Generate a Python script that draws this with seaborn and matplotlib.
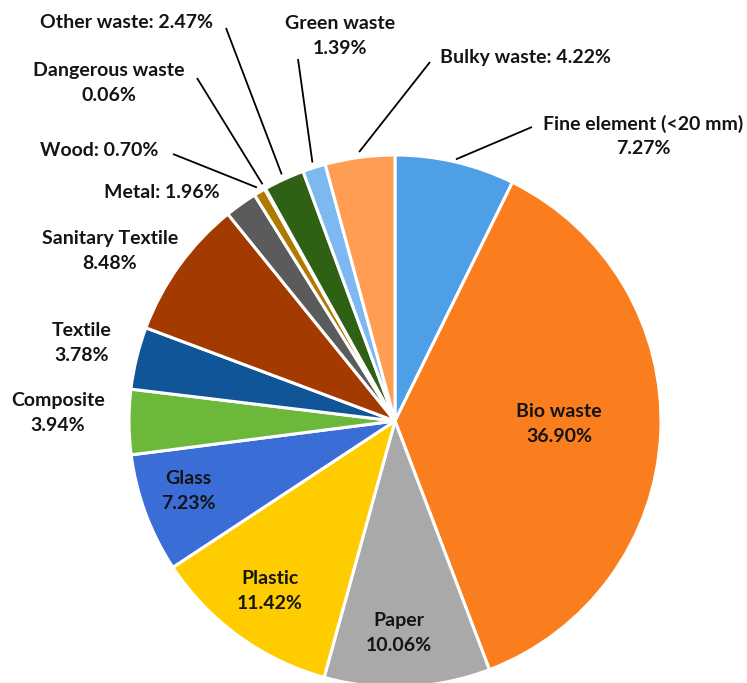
import matplotlib
matplotlib.use("Agg")
import matplotlib.pyplot as plt
import seaborn as sns
import numpy as np

sns.set_theme(style="white")
plt.rcParams['font.family'] = ['Lato', 'DejaVu Sans']

categories = ["Fine element (<20 mm)", "Bio waste", "Paper", "Plastic", "Glass",
              "Composite", "Textile", "Sanitary Textile", "Metal", "Wood",
              "Dangerous waste", "Other waste", "Green waste", "Bulky waste"]
values = [7.27, 36.90, 10.06, 11.42, 7.23, 3.94, 3.78, 8.48, 1.96, 0.70,
          0.06, 2.47, 1.39, 4.22]
pct_labels = ["7.27%", "36.90%", "10.06%", "11.42%", "7.23%", "3.94%", "3.78%",
              "8.48%", "1.96%", "0.70%", "0.06%", "2.47%", "1.39%", "4.22%"]
colors = ["#4F9FE6", "#FA7D1E", "#A9A9A9", "#FFCC00", "#3A6DD5", "#6CB83A",
          "#0F5597", "#A33A00", "#5B5B5B", "#B07A00", "#7F5200", "#2F6115",
          "#7DB9F0", "#FF9D52"]

W, H = 747, 683
CX, CY, R = 395, 421, 266

fig = plt.figure(figsize=(W / 100, H / 100), dpi=100)
ax = fig.add_axes([0, 0, 1, 1])

def px(x, y):
    return (x - CX) / R, (CY - y) / R

wedges, _ = ax.pie(values, colors=colors, startangle=90, counterclock=False,
                   radius=1.0, center=(0, 0),
                   wedgeprops=dict(edgecolor="white", linewidth=2.2))

ax.set_xlim(-CX / R, (W - CX) / R)
ax.set_ylim((CY - H) / R, CY / R)
ax.set_aspect("equal")
ax.axis("off")

fs = 14
tkw = dict(fontsize=fs, fontweight="bold", color="#141414", ha="center", va="center")

# label layout: (text, x_px, y_px, leader start px or None, leader radius)
layout = {
    "Fine element (<20 mm)": ("\n", 643, 136, (532, 127), 1.01),
    "Bio waste": ("\n", 559, 424, None, None),
    "Paper": ("\n", 399, 633, None, None),
    "Plastic": ("\n", 270, 591, None, None),
    "Glass": ("\n", 188, 491, None, None),
    "Composite": ("\n", 58, 413, None, None),
    "Textile": ("\n", 82, 343, None, None),
    "Sanitary Textile": ("\n", 110, 251, None, None),
    "Metal": (": ", 162, 192, None, None),
    "Wood": (": ", 99, 151, (173, 154), 1.02),
    "Dangerous waste": ("\n", 109, 83, (197, 78), 1.02),
    "Other waste": (": ", 127, 23, (226, 28), 1.02),
    "Green waste": ("\n", 340, 36, (298, 59), 1.02),
    "Bulky waste": (": ", 525, 57, (430, 62), 1.02),
}

for cat, pct, w in zip(categories, pct_labels, wedges):
    sep, tx, ty, lstart, lr = layout[cat]
    x, y = px(tx, ty)
    ax.text(x, y, cat + sep + pct, linespacing=1.55, **tkw)
    if lstart is not None:
        mid = np.deg2rad((w.theta1 + w.theta2) / 2)
        ex, ey = lr * np.cos(mid), lr * np.sin(mid)
        sx, sy = px(*lstart)
        ax.plot([sx, ex], [sy, ey], color="black", lw=1.3, solid_capstyle="butt")

fig.savefig("out.png", dpi=100, facecolor="white")
